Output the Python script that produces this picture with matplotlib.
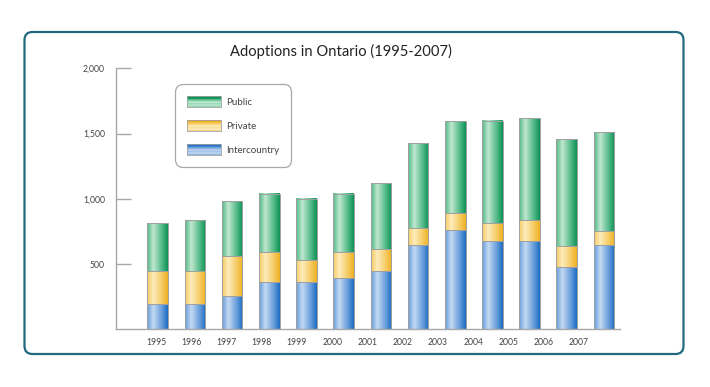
import numpy as np
import matplotlib
matplotlib.use("Agg")
import matplotlib.pyplot as plt
from matplotlib.colors import LinearSegmentedColormap
from matplotlib.patches import Rectangle, FancyBboxPatch
from matplotlib.transforms import IdentityTransform
from matplotlib.legend_handler import HandlerBase

plt.rcParams['font.family'] = ['Lato', 'DejaVu Sans']

# data
years = ['1995', '1996', '1997', '1998', '1999', '2000', '2001',
         '2002', '2003', '2004', '2005', '2006', '2007']
intercountry = [195, 195, 255, 360, 360, 395, 450, 645, 760, 675, 675, 475, 645]
private = [255, 255, 305, 230, 170, 195, 165, 135, 135, 140, 165, 165, 110]
public = [365, 390, 420, 445, 470, 445, 505, 645, 700, 785, 780, 815, 755]
series_names = ['Intercountry', 'Private', 'Public']
yticks = [500, 1000, 1500, 2000]

# dark, light, mid shades for the cylinder look
shades = {
    'Intercountry': ('#1c6cc2', '#c4d9f3', '#659cda'),
    'Private': ('#eeb022', '#fdecbc', '#f5cb62'),
    'Public': ('#0f9255', '#c0e8d0', '#50b886'),
}

def make_cmap(name):
    dark, light, mid = shades[name]
    return LinearSegmentedColormap.from_list(
        name, [(0, mid), (0.3, light), (0.72, mid), (1, dark)])

cmaps = {n: make_cmap(n) for n in series_names}

fig = plt.figure(figsize=(7.1, 3.87), dpi=100)
W, H = 710, 387

# outer rounded frame (pixel coords)
frame = FancyBboxPatch((24.5, H - 354), 659, 322,
                       boxstyle='round,pad=0,rounding_size=8',
                       transform=IdentityTransform(), facecolor='white',
                       edgecolor='#22697f', linewidth=1.6, zorder=0)
fig.add_artist(frame)

ax = fig.add_axes([116 / W, (H - 329.3) / H, 504 / W, 261 / H])
ax.set_facecolor('none')

x = np.arange(len(years))
width = 0.556
bottom = np.zeros(len(years))
containers = {}
for name, vals in zip(series_names, [intercountry, private, public]):
    bars = ax.bar(x, vals, width, bottom=bottom, facecolor='none',
                  edgecolor='#a0a0a0', linewidth=0.7, zorder=3)
    containers[name] = bars
    grad = np.linspace(0, 1, 64).reshape(1, -1)
    for b in bars:
        x0, y0 = b.get_xy()
        ax.imshow(grad, extent=(x0, x0 + b.get_width(), y0, y0 + b.get_height()),
                  aspect='auto', cmap=cmaps[name], zorder=2, interpolation='bilinear')
    bottom += np.array(vals)

ax.set_xlim(-1.121, 12.43)
ax.set_ylim(0, 2000)
ax.set_aspect('auto')

for s in ['top', 'right']:
    ax.spines[s].set_visible(False)
for s in ['left', 'bottom']:
    ax.spines[s].set_color('#a8a8a8')
    ax.spines[s].set_linewidth(1.0)

ax.set_yticks(yticks)
ax.set_yticklabels([f'{v:,}' for v in yticks])
ax.tick_params(axis='y', direction='in', length=10.5, width=1.0,
               color='#a8a8a8', pad=8, labelsize=6.2, labelcolor='#444444')

# year labels are spaced a little tighter than the bars in the original
label_pos = -0.046 + 0.9476 * np.arange(len(years))
ax.set_xticks(label_pos)
ax.set_xticklabels(years)
ax.tick_params(axis='x', length=0, pad=6, labelsize=6.2, labelcolor='#444444')

fig.text(341.3 / W, 1 - 51 / H, 'Adoptions in Ontario (1995-2007)',
         ha='center', va='center', fontsize=10.6, color='#222222')


class GradHandler(HandlerBase):
    def __init__(self, cmap):
        super().__init__()
        self.cmap = cmap

    def create_artists(self, legend, orig_handle, xdescent, ydescent,
                       width, height, fontsize, trans):
        n = 14
        prof = [0.55, 0.45, 0.35, 0.25, 0.2, 0.25, 0.3, 0.4, 0.55, 0.7, 0.85, 0.95, 1.0, 1.0]
        arts = []
        for k in range(n):
            arts.append(Rectangle((-xdescent, -ydescent + height * k / n),
                                  width, height / n + 0.01,
                                  facecolor=self.cmap(prof[k]), edgecolor='none',
                                  transform=trans))
        arts.append(Rectangle((-xdescent, -ydescent), width, height, fill=False,
                              edgecolor='#a0a0a0', linewidth=0.6, transform=trans))
        return arts


order = ['Public', 'Private', 'Intercountry']
handles = [containers[n] for n in order]
leg = ax.legend(handles, order,
                handler_map={containers[n]: GradHandler(cmaps[n]) for n in order},
                loc='upper left', bbox_to_anchor=((175 - 116) / 504, (329.3 - 84) / 261),
                fontsize=7.0, handlelength=3.5, handleheight=1.4,
                labelspacing=1.3, handletextpad=0.5, borderpad=1.25,
                borderaxespad=0, frameon=True, fancybox=True)
fr = leg.get_frame()
fr.set_boxstyle('round,pad=0,rounding_size=0.8')
fr.set_edgecolor('#a8a8a8')
fr.set_linewidth(0.9)
fr.set_alpha(1)
for t in leg.get_texts():
    t.set_color('#444444')

fig.savefig('out.png', dpi=100)
